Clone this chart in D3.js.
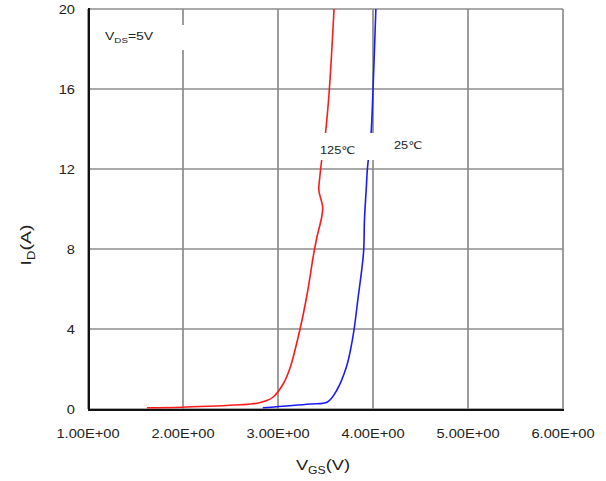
<!DOCTYPE html>
<html>
<head>
<meta charset="utf-8">
<script src="https://cdn.jsdelivr.net/npm/d3@7"></script>
<style>
  html, body { margin: 0; padding: 0; background: #fff; }
  svg { display: block; }
  text { font-family: "Liberation Sans", Arial, "DejaVu Sans", sans-serif; fill: #222; }
</style>
</head>
<body>
<svg id="chart" width="606" height="481"></svg>
<script>
// Transfer characteristics: drain current vs gate-source voltage
const xTicks = [1, 2, 3, 4, 5, 6];
const xTickLabels = ["1.00E+00", "2.00E+00", "3.00E+00", "4.00E+00", "5.00E+00", "6.00E+00"];
const yTicks = [0, 4, 8, 12, 16, 20];
const yTickLabels = ["0", "4", "8", "12", "16", "20"];

// 125 °C curve: VGS (V) and ID (A)
const vgs125 = [1.62, 1.99, 2.60, 2.78, 2.88, 2.95, 3.06, 3.13, 3.205, 3.26, 3.32, 3.37, 3.41, 3.46, 3.47, 3.43, 3.44, 3.46, 3.50, 3.54, 3.59];
const id125  = [0.06, 0.09, 0.21, 0.29, 0.42, 0.60, 1.30, 2.10, 3.45, 4.60, 6.10, 7.60, 8.60, 9.60, 10.1, 10.95, 11.6, 12.45, 13.8, 15.95, 20.0];

// 25 °C curve
const vgs25 = [2.84, 3.34, 3.52, 3.62, 3.72, 3.765, 3.80, 3.84, 3.90, 3.91, 3.93, 3.94, 3.95, 3.98, 4.00, 4.03];
const id25  = [0.06, 0.25, 0.35, 0.95, 2.10, 3.00, 3.95, 5.45, 7.80, 9.45, 11.1, 11.95, 12.45, 13.8, 15.95, 20.0];

const svg = d3.select("#chart");
const plotL = 88, plotR = 563, plotT = 9, plotB = 409;
const x = d3.scaleLinear().domain([1, 6]).range([plotL, plotR]);
const y = d3.scaleLinear().domain([0, 20]).range([plotB, plotT]);
const SX = 1.22; // horizontal stretch of the lettering

// grid
const grid = svg.append("g").attr("stroke", "#8c8c8c").attr("stroke-width", 1.7);
grid.selectAll("line.v").data(xTicks).join("line")
  .attr("x1", d => x(d)).attr("x2", d => x(d))
  .attr("y1", plotT).attr("y2", plotB);
grid.selectAll("line.h").data(yTicks).join("line")
  .attr("x1", plotL).attr("x2", plotR)
  .attr("y1", d => y(d)).attr("y2", d => y(d));

// axes lines
svg.append("line").attr("x1", plotL + 1).attr("x2", plotL + 1).attr("y1", plotT - 1).attr("y2", plotB + 1)
  .attr("stroke", "#111").attr("stroke-width", 2);
svg.append("line").attr("x1", plotL).attr("x2", plotR + 1).attr("y1", plotB + 1).attr("y2", plotB + 1)
  .attr("stroke", "#111").attr("stroke-width", 2);

// curves
const line = d3.line()
  .x(d => x(d[0])).y(d => y(d[1]))
  .curve(d3.curveCatmullRom.alpha(0.5));
svg.append("path").datum(d3.zip(vgs125, id125))
  .attr("d", line).attr("fill", "none").attr("stroke", "#ff1a1a").attr("stroke-width", 1.6);
svg.append("path").datum(d3.zip(vgs25, id25))
  .attr("d", line).attr("fill", "none").attr("stroke", "#1a1aff").attr("stroke-width", 1.6);

// label backgrounds
svg.append("rect").attr("x", 96).attr("y", 25).attr("width", 90).attr("height", 25).attr("fill", "#fff");
svg.append("rect").attr("x", 308).attr("y", 133).attr("width", 66).attr("height", 27).attr("fill", "#fff");
svg.append("rect").attr("x", 386).attr("y", 133).attr("width", 50).attr("height", 25).attr("fill", "#fff");

function stretched(px, py, anchor) {
  return svg.append("text")
    .attr("transform", `translate(${px},${py}) scale(${SX},1)`)
    .attr("text-anchor", anchor || "start");
}

// tick labels
xTicks.forEach((t, i) => {
  stretched(x(t), 438, "middle").attr("font-size", 12).text(xTickLabels[i]);
});
yTicks.forEach((t, i) => {
  stretched(75, y(t) + 4.5, "end").attr("font-size", 12).text(yTickLabels[i]);
});

// axis titles
const xt = stretched(323, 470, "middle").attr("font-size", 15);
xt.append("tspan").text("V");
xt.append("tspan").attr("font-size", 10).attr("dy", 4).text("GS");
xt.append("tspan").attr("dy", -4).text("(V)");

const yt = svg.append("text")
  .attr("transform", `translate(31,245) rotate(-90) scale(1.3,1)`)
  .attr("text-anchor", "middle").attr("font-size", 15);
yt.append("tspan").text("I");
yt.append("tspan").attr("font-size", 10).attr("dy", 4).text("D");
yt.append("tspan").attr("dy", -4).text("(A)");

// annotations
const vds = stretched(105, 40).attr("font-size", 11.5);
vds.append("tspan").text("V");
vds.append("tspan").attr("font-size", 8).attr("dy", 2.5).text("DS");
vds.append("tspan").attr("dy", -2.5).text("=5V");

stretched(320, 154).attr("font-size", 10.5).text("125\u2103");
stretched(394, 149).attr("font-size", 10.5).text("25\u2103");
</script>
</body>
</html>
